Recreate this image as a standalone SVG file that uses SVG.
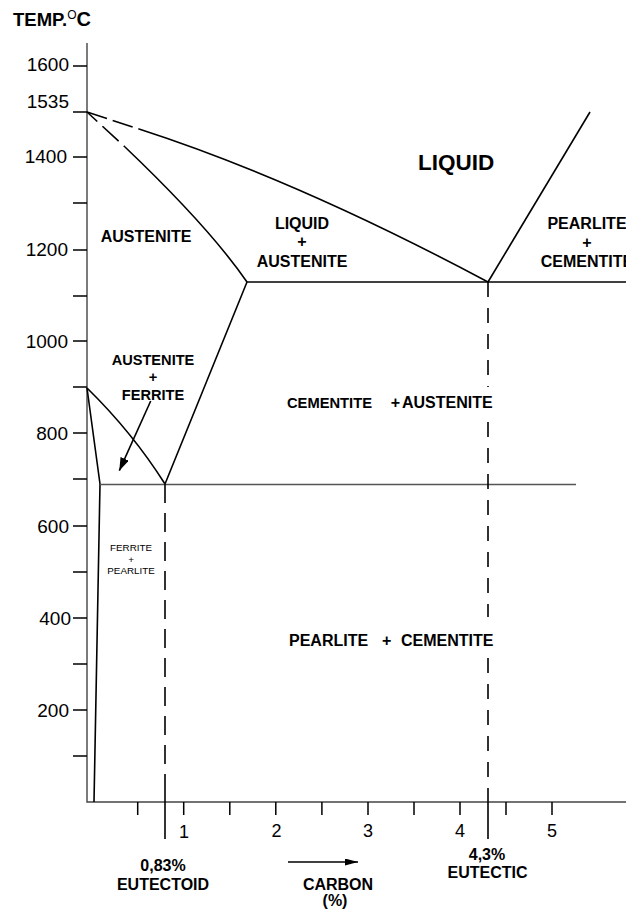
<svg xmlns="http://www.w3.org/2000/svg" width="626" height="913" viewBox="0 0 626 913">
<style>
text{font-family:"Liberation Sans",Arial,sans-serif;fill:#000}
.b{font-weight:bold}
.ph{font-weight:bold;font-size:16px;text-anchor:middle}
.sm{font-size:14.6px}
.yl{font-size:19px;text-anchor:end}
.xl{font-size:18px;text-anchor:middle}
.ax{stroke:#444;stroke-width:1.4;fill:none}
.tk{stroke:#000;stroke-width:1.5;fill:none}
.ln{stroke:#000;stroke-width:1.6;fill:none}
.dl{stroke:#000;stroke-width:1.6;fill:none}
.eu{stroke:#555;stroke-width:1.5;fill:none}
</style>
<defs>
<marker id="ah" markerUnits="userSpaceOnUse" markerWidth="14" markerHeight="10" refX="13" refY="4.5" orient="auto">
<path d="M0,0 L13,4.5 L0,9 z" fill="#000"/>
</marker>
<marker id="ah2" markerUnits="userSpaceOnUse" markerWidth="14" markerHeight="8" refX="13" refY="3.5" orient="auto">
<path d="M0,0 L13,3.5 L0,7 z" fill="#000"/>
</marker>
</defs>
<rect width="626" height="913" fill="#fff"/>

<g id="axes">
<path class="ax" d="M87,43 V802 H626"/>
<path class="tk" d="M73,66 H87 M73,112 H87 M73,157 H87 M73,203 H87 M73,250 H87 M73,296 H87 M73,341 H87 M73,387 H87 M73,433 H87 M73,479 H87 M73,526 H87 M73,572 H87 M73,618 H87 M73,664 H87 M73,710 H87 M73,756 H87"/>
<path class="tk" d="M137.7,802 V815 M183.7,802 V815 M229.8,802 V815 M275.8,802 V815 M321.9,802 V815 M368,802 V815 M414,802 V815 M460,802 V815 M506,802 V815 M552,802 V815"/>
<text x="13" y="25.5" class="b" font-size="18.5">TEMP.<tspan font-size="12" dy="-6.5" font-weight="normal">O</tspan><tspan dy="6.5" font-size="20">C</tspan></text>
<text class="yl" x="69" y="71">1600</text>
<text class="yl" x="69" y="108">1535</text>
<text class="yl" x="67" y="163">1400</text>
<text class="yl" x="68" y="256">1200</text>
<text class="yl" x="68" y="348">1000</text>
<text class="yl" x="68" y="440">800</text>
<text class="yl" x="69" y="533">600</text>
<text class="yl" x="71" y="625">400</text>
<text class="yl" x="69" y="717">200</text>
<text class="xl" x="184" y="838">1</text>
<text class="xl" x="276.5" y="837">2</text>
<text class="xl" x="368" y="837">3</text>
<text class="xl" x="460" y="837">4</text>
<text class="xl" x="552" y="837">5</text>
</g>

<g id="phase-lines">
<path class="dl" stroke-dasharray="21 6" d="M87,112 L139,129"/>
<path class="ln" d="M139,129 Q297,180 488,282"/>
<path class="dl" stroke-dasharray="14 7 22 7" d="M87,112 L125,147"/>
<path class="ln" d="M125,147 Q209,227 247,282"/>
<path class="ln" d="M488,282 L590,112"/>
<path class="ln" d="M247,282 H626"/>
<path class="ln" d="M87,388 Q132,432 165,484"/>
<path class="ln" d="M165,484 L247,282"/>
<path class="ln" d="M87,388 L100,484 L94,802"/>
<path class="eu" d="M100,484.5 H576"/>
<path class="dl" stroke-dasharray="19 10" d="M165,484 V785"/>
<path class="ln" d="M165,785 V839"/>
<path class="dl" stroke-dasharray="15 11" d="M488,282 V387 M488,422 V617 M488,658 V789"/>
<path class="ln" d="M488,789 V839"/>
</g>

<g id="connectors">
<path class="ln" d="M150.7,401 L119.3,470.7" marker-end="url(#ah)"/>
<path class="ln" d="M288,862 L358,862" marker-end="url(#ah2)"/>
</g>

<g id="labels">
<text x="418" y="170" class="b" font-size="22.5">LIQUID</text>
<text class="ph" x="146" y="242">AUSTENITE</text>
<g id="liquid-austenite">
<text class="ph" x="302" y="229">LIQUID</text>
<text class="ph" x="302" y="247">+</text>
<text class="ph" x="302" y="267">AUSTENITE</text>
</g>
<g id="pearlite-cementite-top">
<text class="ph" x="587" y="229">PEARLITE</text>
<text class="ph" x="587" y="248">+</text>
<text class="ph" x="587" y="267">CEMENTITE</text>
</g>
<g id="austenite-ferrite">
<text class="ph sm" x="153" y="365">AUSTENITE</text>
<text class="ph sm" x="153" y="382">+</text>
<text class="ph sm" x="153" y="400">FERRITE</text>
</g>
<g id="cementite-austenite">
<text class="b" x="287" y="408" font-size="15.5" textLength="85" lengthAdjust="spacingAndGlyphs">CEMENTITE</text>
<text class="ph" x="395.5" y="408">+</text>
<text class="b" x="402" y="408" font-size="16">AUSTENITE</text>
</g>
<g id="ferrite-pearlite">
<text x="131" y="551" font-size="9.8" text-anchor="middle">FERRITE</text>
<text x="131" y="562.5" font-size="9.8" text-anchor="middle">+</text>
<text x="131" y="574" font-size="9.8" text-anchor="middle">PEARLITE</text>
</g>
<g id="pearlite-cementite">
<text class="b" x="289" y="646" font-size="16">PEARLITE</text>
<text class="ph" x="386.7" y="646">+</text>
<text class="b" x="401" y="646" font-size="16">CEMENTITE</text>
</g>
<text class="ph" x="163" y="871">0,83%</text>
<text class="ph" x="163" y="890">EUTECTOID</text>
<text class="ph" x="338" y="890">CARBON</text>
<text class="ph" x="335" y="906">(%)</text>
<text class="ph" x="487" y="860">4,3%</text>
<text class="ph" x="487.5" y="878">EUTECTIC</text>
</g>
</svg>
